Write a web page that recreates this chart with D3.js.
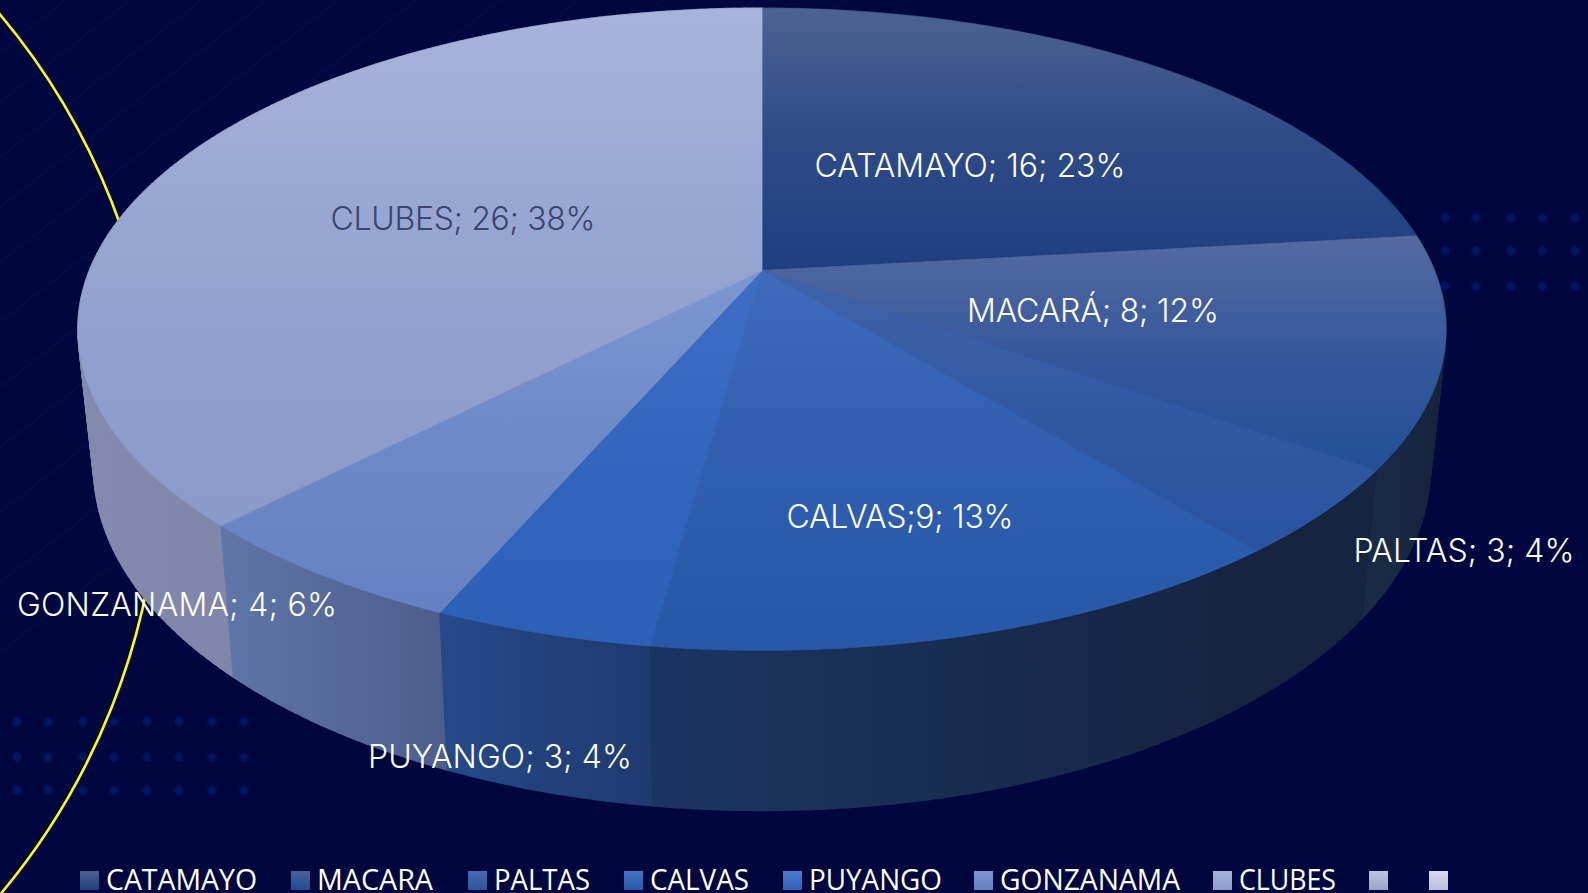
<!DOCTYPE html>
<html><head><meta charset="utf-8">
<script src="https://d3js.org/d3.v7.min.js"></script>
<style>html,body{margin:0;padding:0;background:#00063f;overflow:hidden}</style></head>
<body><svg id="c" width="1588" height="893"></svg>
<script>
const categories=["CATAMAYO","MACARÁ","PALTAS","CALVAS","PUYANGO","GONZANAMA","CLUBES"];
const values=[16,8,3,9,3,4,26];
const percents=[23,12,4,13,4,6,38];
const labelTexts=["CATAMAYO; 16; 23%","MACARÁ; 8; 12%","PALTAS; 3; 4%","CALVAS;9; 13%","PUYANGO; 3; 4%","GONZANAMA; 4; 6%","CLUBES; 26; 38%"];
const labelInk=["#fff","#fff","#fff","#fff","#fff","#fff","#3a4570"];
const labelX=[970,1093,1464,900,500,177,463];
const labelY=[177,322,562,528,768,616,230];
const labelW=[311,252,221,227,264,320,265];
const topLight=["#4d6292","#556aa0","#3f63a9","#3f6abb","#3e6fc6","#7d97d1","#a7b5dc"];
const topDark=["#1e3f80","#234f98","#2a53a0","#2758a8","#2c5fb6","#6581c1","#8a9ac9"];
const wallLeft=["#16264a","#1a2b45","#15243f","#1b3563","#25498a","#5f76a8","#828aae"];
const wallRight=["#16264a","#15233c","#15243f","#15243f","#1f3a6f","#4d5e8c","#717a9c"];
const legendNames=["CATAMAYO","MACARA","PALTAS","CALVAS","PUYANGO","GONZANAMA","CLUBES","",""];
const legendTop=["#4d6292","#466296","#4a6cb0","#4a74c4","#4a7cd0","#7a95d0","#a3b2da","#bcc6e2","#d4daee"];
const legendBottom=["#1e3f80","#214c94","#2a53a0","#2758a8","#2c5fb6","#6581c1","#8e9ecb","#9aa6c8","#b8c0da"];
const legendX=[80,291,468,624,783,974,1213,1369,1429];
const legendW=[151,116,96,99,133,180,97,0,0];
const streakOffsets=[60,110,165,215,270,330,395,455,520,590,660];

const svg=d3.select("#c"),defs=svg.append("defs");
const W=1588,H=893;
svg.append("rect").attr("width",W).attr("height",H).attr("fill","#00073f");
defs.append("filter").attr("id","soft").append("feGaussianBlur").attr("stdDeviation",1.2);

// faint diagonal streaks, top-left of the background
svg.append("g").selectAll("line").data(streakOffsets).join("line")
  .attr("x1",d=>-10).attr("y1",d=>d).attr("x2",d=>d*1.3).attr("y2",-10)
  .attr("stroke","#0b1d68").attr("stroke-width",1).attr("opacity",.45);

// dot grids
const dots=svg.append("g").attr("filter","url(#soft)");
[[[17,48,83,114,147,179,212,244],[722,757,790]],[[1445,1476,1511,1542,1575],[218,251,286]]].forEach(([xs,ys])=>{
  ys.forEach(y=>xs.forEach(x=>dots.append("circle").attr("cx",x).attr("cy",y).attr("r",4.5).attr("fill","#04145f")));
});

// yellow ring, behind the pie
svg.append("circle").attr("cx",-525).attr("cy",454.6).attr("r",685)
  .attr("fill","none").attr("stroke","#ffff00").attr("stroke-width",2.6);

// perspective disc
const cx=762,apexY=270.5,A=672.5,B=310.3,p=0.183;
const rim=t=>{const u=Math.sin(t),v=Math.cos(t),w=1+p*v;return [cx+A*u/w,apexY-B*v/w];};
const sx=0.977,kY=1.07,cY=114.5;
const base=t=>{const r=rim(t);return [cx+(r[0]-cx)*sx,r[1]*kY+cY];};

const pie=d3.pie().sort(null).startAngle(0).endAngle(2*Math.PI)(values);
const line=d3.line();
const sample=(a,b,n)=>d3.range(0,n+1).map(i=>a+(b-a)*i/n);

function grad(id,x1,y1,x2,y2,stops){
  const g=defs.append("linearGradient").attr("id",id).attr("gradientUnits","userSpaceOnUse")
    .attr("x1",x1).attr("y1",y1).attr("x2",x2).attr("y2",y2);
  stops.forEach(([o,c])=>g.append("stop").attr("offset",o).attr("stop-color",c));
}
// wall: thin strips sharing one gradient per slice, painted back to front
const strips=[];
pie.forEach((d,i)=>{
  const ts=sample(d.startAngle,d.endAngle,Math.max(8,Math.round(values[i]*6)));
  const xs=ts.map(t=>rim(t)[0]);
  grad("w"+i,d3.min(xs),0,d3.max(xs),0,[[0,wallLeft[i]],[1,wallRight[i]]]);
  d3.pairs(ts).forEach(([a,b])=>{
    strips.push({v:Math.cos((a+b)/2),fill:"url(#w"+i+")",pts:[rim(a),rim(b),base(b),base(a)]});
  });
});
strips.sort((a,b)=>b.v-a.v);
svg.append("g").selectAll("path").data(strips).join("path")
  .attr("d",s=>line(s.pts)+"Z").attr("fill",s=>s.fill).attr("stroke",s=>s.fill).attr("stroke-width",1.6);

// top
pie.forEach((d,i)=>{
  const ts=sample(d.startAngle,d.endAngle,80);
  const pts=[[cx,apexY]].concat(ts.map(rim));
  const ys=pts.map(q=>q[1]);
  grad("t"+i,0,d3.min(ys),0,d3.max(ys),[[0,topLight[i]],[.5,d3.interpolateRgb(topLight[i],topDark[i])(.65)],[1,topDark[i]]]);
  svg.append("path").attr("d",line(pts)+"Z").attr("fill","url(#t"+i+")").attr("stroke","url(#t"+i+")").attr("stroke-width",.8);
});

// data labels
svg.append("g").selectAll("text").data(labelTexts).join("text")
  .attr("x",(d,i)=>labelX[i]).attr("y",(d,i)=>labelY[i]).attr("text-anchor","middle")
  .attr("textLength",(d,i)=>labelW[i]).attr("lengthAdjust","spacing")
  .attr("font-family","Inter, Lato, sans-serif").attr("font-weight",300).attr("font-size",32)
  .attr("fill",(d,i)=>labelInk[i]).text(d=>d);

// legend
const leg=svg.append("g");
legendNames.forEach((n,i)=>{
  grad("l"+i,0,871,0,890,[[0,legendTop[i]],[1,legendBottom[i]]]);
  leg.append("rect").attr("x",legendX[i]).attr("y",871).attr("width",19).attr("height",19).attr("fill","url(#l"+i+")");
  if(n) leg.append("text").attr("x",legendX[i]+26).attr("y",890).attr("font-family","'Open Sans', sans-serif")
    .attr("font-size",28.5).attr("fill","#fff").attr("textLength",legendW[i]).attr("lengthAdjust","spacingAndGlyphs").text(n);
});
</script></body></html>
